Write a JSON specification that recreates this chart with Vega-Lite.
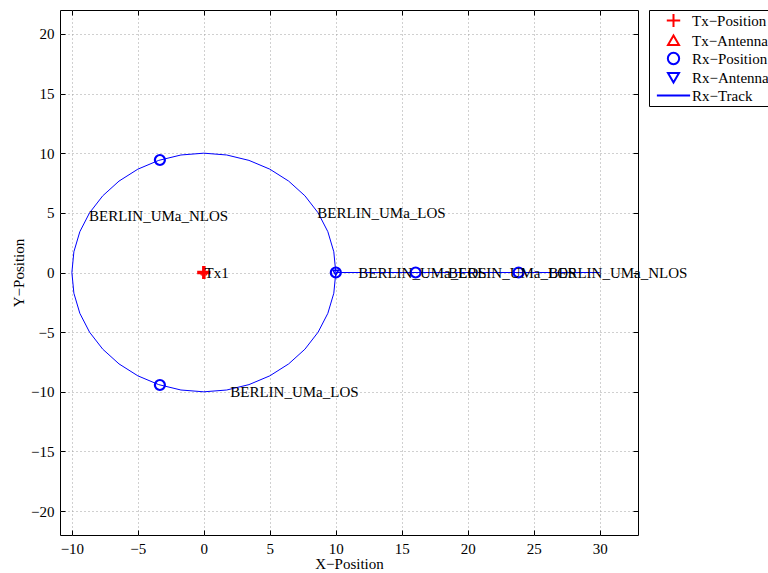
{
  "$schema": "https://vega.github.io/schema/vega-lite/v6.json",
  "width": 578,
  "height": 525,
  "autosize": "none",
  "padding": {"left": 60, "top": 10, "right": 130, "bottom": 38},
  "background": "white",
  "datasets": {
    "track": [
      {"t": "c", "i": 0, "x": 10, "y": 0},
      {"t": "c", "i": 1, "x": 9.848, "y": 1.736},
      {"t": "c", "i": 2, "x": 9.397, "y": 3.42},
      {"t": "c", "i": 3, "x": 8.66, "y": 5.0},
      {"t": "c", "i": 4, "x": 7.66, "y": 6.428},
      {"t": "c", "i": 5, "x": 6.428, "y": 7.66},
      {"t": "c", "i": 6, "x": 5.0, "y": 8.66},
      {"t": "c", "i": 7, "x": 3.42, "y": 9.397},
      {"t": "c", "i": 8, "x": 1.736, "y": 9.848},
      {"t": "c", "i": 9, "x": 0, "y": 10},
      {"t": "c", "i": 10, "x": -1.736, "y": 9.848},
      {"t": "c", "i": 11, "x": -3.42, "y": 9.397},
      {"t": "c", "i": 12, "x": -5.0, "y": 8.66},
      {"t": "c", "i": 13, "x": -6.428, "y": 7.66},
      {"t": "c", "i": 14, "x": -7.66, "y": 6.428},
      {"t": "c", "i": 15, "x": -8.66, "y": 5.0},
      {"t": "c", "i": 16, "x": -9.397, "y": 3.42},
      {"t": "c", "i": 17, "x": -9.848, "y": 1.736},
      {"t": "c", "i": 18, "x": -10, "y": 0},
      {"t": "c", "i": 19, "x": -9.848, "y": -1.736},
      {"t": "c", "i": 20, "x": -9.397, "y": -3.42},
      {"t": "c", "i": 21, "x": -8.66, "y": -5.0},
      {"t": "c", "i": 22, "x": -7.66, "y": -6.428},
      {"t": "c", "i": 23, "x": -6.428, "y": -7.66},
      {"t": "c", "i": 24, "x": -5.0, "y": -8.66},
      {"t": "c", "i": 25, "x": -3.42, "y": -9.397},
      {"t": "c", "i": 26, "x": -1.736, "y": -9.848},
      {"t": "c", "i": 27, "x": 0, "y": -10},
      {"t": "c", "i": 28, "x": 1.736, "y": -9.848},
      {"t": "c", "i": 29, "x": 3.42, "y": -9.397},
      {"t": "c", "i": 30, "x": 5.0, "y": -8.66},
      {"t": "c", "i": 31, "x": 6.428, "y": -7.66},
      {"t": "c", "i": 32, "x": 7.66, "y": -6.428},
      {"t": "c", "i": 33, "x": 8.66, "y": -5.0},
      {"t": "c", "i": 34, "x": 9.397, "y": -3.42},
      {"t": "c", "i": 35, "x": 9.848, "y": -1.736},
      {"t": "c", "i": 36, "x": 10, "y": 0},
      {"t": "s", "i": 0, "x": 10, "y": 0},
      {"t": "s", "i": 1, "x": 30, "y": 0}
    ],
    "points": [
      {"series": "Tx−Position", "x": 0, "y": 0},
      {"series": "Tx−Antenna", "x": 0, "y": 0},
      {"series": "Rx−Position", "x": -3.33, "y": 9.43},
      {"series": "Rx−Position", "x": -3.33, "y": -9.43},
      {"series": "Rx−Position", "x": 10, "y": 0},
      {"series": "Rx−Position", "x": 16.05, "y": 0},
      {"series": "Rx−Position", "x": 23.85, "y": 0},
      {"series": "Rx−Antenna", "x": 10, "y": 0}
    ],
    "labels": [
      {"label": "Tx1", "x": 0.05, "y": 0},
      {"label": "BERLIN_UMa_NLOS", "x": -8.7, "y": 4.7},
      {"label": "BERLIN_UMa_LOS", "x": 8.6, "y": 5.0},
      {"label": "BERLIN_UMa_LOS", "x": 2.0, "y": -10.0},
      {"label": "BERLIN_UMa_LOS", "x": 11.7, "y": 0},
      {"label": "BERLIN_UMa_LOS", "x": 18.5, "y": 0},
      {"label": "BERLIN_UMa_NLOS", "x": 26.1, "y": 0}
    ]
  },
  "resolve": {"axis": {"x": "independent", "y": "independent"}},
  "layer": [
    {
      "data": {"name": "track"},
      "mark": {"type": "line", "color": "#0000ff", "strokeWidth": 1, "clip": true},
      "encoding": {
        "x": {"field": "x", "type": "quantitative",
          "scale": {"domain": [-10.9, 32.9], "nice": false, "zero": false},
          "axis": {"orient": "bottom", "title": "X−Position", "values": [-10, -5, 0, 5, 10, 15, 20, 25, 30], "grid": true, "titlePadding": 0}},
        "y": {"field": "y", "type": "quantitative",
          "scale": {"domain": [-22, 22], "nice": false, "zero": false},
          "axis": {"orient": "left", "title": "Y−Position", "values": [-20, -15, -10, -5, 0, 5, 10, 15, 20], "grid": true, "titlePadding": 4}},
        "detail": {"field": "t"},
        "order": {"field": "i", "type": "quantitative"}
      }
    },
    {
      "data": {"name": "points"},
      "transform": [{"filter": {"field": "series", "equal": "Tx−Position"}}],
      "mark": {"type": "point", "filled": false, "strokeWidth": 3.5, "size": 196, "opacity": 1},
      "encoding": {
        "x": {"field": "x", "type": "quantitative",
          "axis": {"orient": "top", "title": null, "labels": false, "grid": false, "values": [-10, -5, 0, 5, 10, 15, 20, 25, 30]}},
        "y": {"field": "y", "type": "quantitative",
          "axis": {"orient": "right", "title": null, "labels": false, "grid": false, "values": [-20, -15, -10, -5, 0, 5, 10, 15, 20]}},
        "color": {"field": "series", "type": "nominal",
          "scale": {"domain": ["Tx−Position", "Tx−Antenna", "Rx−Position", "Rx−Antenna", "Rx−Track"], "range": ["#ff0000", "#ff0000", "#0000ff", "#0000ff", "#0000ff"]},
          "legend": {"title": null, "orient": "none", "legendX": 589, "legendY": 0,
            "encode": {"symbols": {"update": {
              "strokeWidth": {"signal": "datum.value === 'Tx−Position' ? 3 : datum.value === 'Rx−Position' ? 2.5 : 1"},
              "opacity": {"value": 1}
            }}}}},
        "shape": {"field": "series", "type": "nominal",
          "scale": {"domain": ["Tx−Position", "Tx−Antenna", "Rx−Position", "Rx−Antenna", "Rx−Track"],
            "range": ["M-0.95,0L0.95,0M0,-0.92L0,0.92", "M0,-0.72L-0.78,0.64L0.78,0.64Z", "M0.8,0A0.8,0.8,0,1,1,-0.8,0A0.8,0.8,0,1,1,0.8,0Z", "M0,0.72L-0.78,-0.64L0.78,-0.64Z", "M-2.35,0L2.35,0"]},
          "legend": {"title": null, "orient": "none", "legendX": 589, "legendY": 0}}
      }
    },
    {
      "data": {"name": "points"},
      "transform": [{"filter": {"field": "series", "equal": "Tx−Antenna"}}],
      "mark": {"type": "point", "filled": false, "strokeWidth": 1, "size": 60, "opacity": 1},
      "encoding": {
        "x": {"field": "x", "type": "quantitative", "axis": null},
        "y": {"field": "y", "type": "quantitative", "axis": null},
        "color": {"field": "series", "type": "nominal", "legend": {"title": null, "orient": "none", "legendX": 589, "legendY": 0}},
        "shape": {"field": "series", "type": "nominal", "legend": {"title": null, "orient": "none", "legendX": 589, "legendY": 0}}
      }
    },
    {
      "data": {"name": "points"},
      "transform": [{"filter": {"field": "series", "equal": "Rx−Position"}}],
      "mark": {"type": "point", "filled": false, "strokeWidth": 2.2, "size": 156, "opacity": 1, "clip": true},
      "encoding": {
        "x": {"field": "x", "type": "quantitative", "axis": null},
        "y": {"field": "y", "type": "quantitative", "axis": null},
        "color": {"field": "series", "type": "nominal", "legend": {"title": null, "orient": "none", "legendX": 589, "legendY": 0}},
        "shape": {"field": "series", "type": "nominal", "legend": {"title": null, "orient": "none", "legendX": 589, "legendY": 0}}
      }
    },
    {
      "data": {"name": "points"},
      "transform": [{"filter": {"field": "series", "equal": "Rx−Antenna"}}],
      "mark": {"type": "point", "filled": false, "strokeWidth": 1.5, "size": 50, "opacity": 1},
      "encoding": {
        "x": {"field": "x", "type": "quantitative", "axis": null},
        "y": {"field": "y", "type": "quantitative", "axis": null},
        "color": {"field": "series", "type": "nominal", "legend": {"title": null, "orient": "none", "legendX": 589, "legendY": 0}},
        "shape": {"field": "series", "type": "nominal", "legend": {"title": null, "orient": "none", "legendX": 589, "legendY": 0}}
      }
    },
    {
      "data": {"name": "labels"},
      "mark": {"type": "text", "align": "left", "baseline": "middle", "font": "Liberation Serif", "fontSize": 15, "color": "black"},
      "encoding": {
        "x": {"field": "x", "type": "quantitative", "axis": null},
        "y": {"field": "y", "type": "quantitative", "axis": null},
        "text": {"field": "label"}
      }
    }
  ],
  "config": {
    "view": {"stroke": "black", "strokeWidth": 1},
    "font": "Liberation Serif",
    "axis": {
      "labelFont": "Liberation Serif", "labelFontSize": 15, "labelColor": "black",
      "titleFont": "Liberation Serif", "titleFontSize": 15, "titleFontWeight": "normal", "titleColor": "black",
      "domain": false, "tickColor": "black", "tickSize": -5, "labelPadding": 11,
      "gridColor": "#a0a0a0", "gridDash": [1, 3], "gridOpacity": 1, "gridWidth": 1
    },
    "legend": {
      "strokeColor": "black", "fillColor": "white", "padding": 2, "rowPadding": -7,
      "labelFont": "Liberation Serif", "labelFontSize": 15, "labelColor": "black",
      "symbolSize": 200, "symbolOffset": 14, "labelOffset": 10, "symbolStrokeWidth": 2, "symbolOpacity": 1, "cornerRadius": 0
    }
  }
}
